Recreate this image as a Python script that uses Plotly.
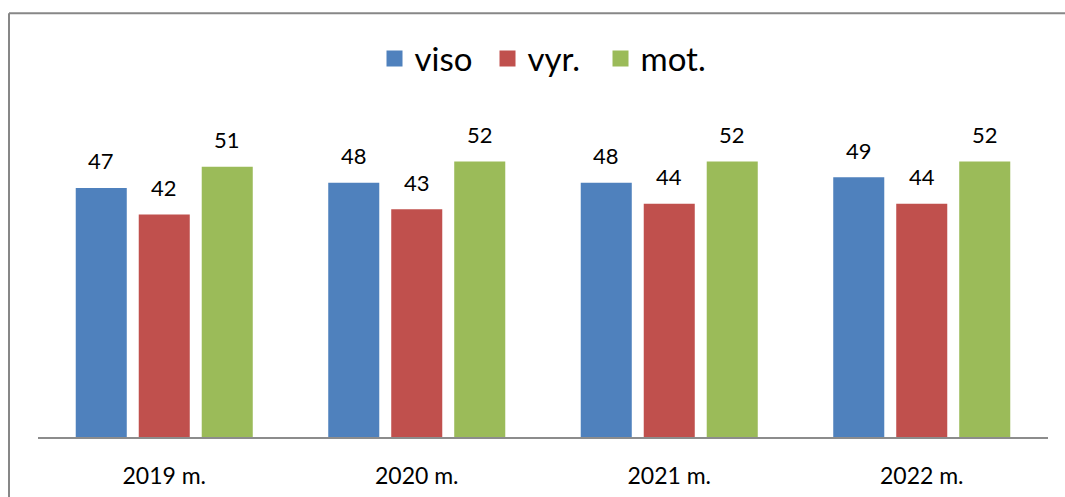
import plotly.graph_objects as go

categories = ["2019 m.", "2020 m.", "2021 m.", "2022 m."]
series_names = ["viso", "vyr.", "mot."]
viso = [47, 48, 48, 49]
vyr = [42, 43, 44, 44]
mot = [51, 52, 52, 52]
colors = ["#4F81BD", "#C0504D", "#9BBB59"]

FONT = "Lato, Carlito, Liberation Sans, sans-serif"
fig = go.Figure()
all_series = [viso, vyr, mot]
for name, vals, col in zip(series_names, all_series, colors):
    fig.add_trace(go.Bar(name=name, x=categories, y=vals, marker_color=col,
                         marker_line_width=0, showlegend=False))
# legend entries with larger square symbols
for name, col in zip(series_names, colors):
    fig.add_trace(go.Scatter(name=name, x=[categories[0]], y=[None], mode="markers",
                             marker=dict(symbol="square", size=20, color=col),
                             showlegend=True, hoverinfo="skip"))

# data labels above bars
offsets = [-63, 0, 63]
for vals, off in zip(all_series, offsets):
    for c, v in zip(categories, vals):
        fig.add_annotation(x=c, y=v, text=str(v), showarrow=False, xshift=off,
                           yshift=27, font=dict(size=22, color="#000000", family=FONT))

top_y = (437.5 - 13) / 337.5
left_x = (9 - 38) / 1010
fig.add_shape(type="line", xref="paper", yref="paper", x0=left_x, x1=1.1,
              y0=top_y, y1=top_y, line=dict(color="#878787", width=2))
fig.add_shape(type="line", xref="paper", yref="paper", x0=left_x, x1=left_x,
              y0=-0.3, y1=top_y, line=dict(color="#878787", width=2))

fig.update_layout(
    width=1065, height=497,
    margin=dict(l=38, r=17, t=100, b=59.5, autoexpand=False),
    paper_bgcolor="white", plot_bgcolor="white",
    barmode="group", bargap=0.2515, bargroupgap=0.19,
    font=dict(family=FONT, color="#000000"),
    showlegend=True,
    legend=dict(orientation="h", x=0.501, xanchor="center", y=1.123, yanchor="middle",
                font=dict(size=33, family=FONT), tracegroupgap=0,
                itemsizing="trace", entrywidth=68, entrywidthmode="pixels"),
    xaxis=dict(showline=True, linecolor="#8C8C8C", linewidth=2, ticks="",
               tickfont=dict(size=23, family=FONT), ticklabelstandoff=17,
               showgrid=False, zeroline=False),
    yaxis=dict(range=[0, 63.6], visible=False, showgrid=False, zeroline=False),
)

fig.write_html("out.html", config={"displayModeBar": False},
               post_script="document.body.style.margin='0';")
